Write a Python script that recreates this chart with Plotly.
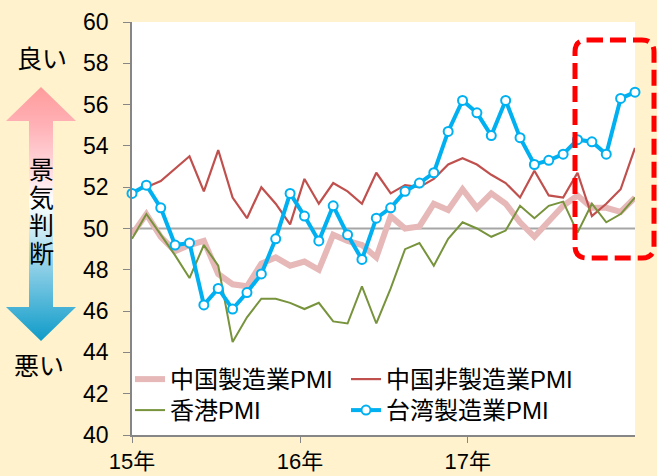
import plotly.graph_objects as go

# ── data (monthly, Jan 2015 – Dec 2017) ──────────────────────────────────────
china_mfg = [49.7, 50.7, 49.6, 48.9, 49.2, 49.4, 47.8, 47.3, 47.2, 48.3, 48.6, 48.2,
             48.4, 48.0, 49.7, 49.4, 49.2, 48.6, 50.6, 50.0, 50.1, 51.2, 50.9, 51.9,
             51.0, 51.7, 51.2, 50.3, 49.6, 50.4, 51.1, 51.6, 51.0, 51.0, 50.8, 51.5]
china_nonmfg = [51.8, 52.0, 52.3, 52.9, 53.5, 51.8, 53.8, 51.5, 50.5, 52.0, 51.2, 50.2,
                52.4, 51.2, 52.2, 51.8, 51.2, 52.7, 51.7, 52.1, 52.0, 52.4, 53.1, 53.4,
                53.1, 52.6, 52.2, 51.5, 52.8, 51.6, 51.5, 52.7, 50.6, 51.2, 51.9, 53.9]
hongkong = [49.5, 50.7, 49.7, 48.7, 47.6, 49.2, 48.2, 44.5, 45.7, 46.6, 46.6, 46.4,
            46.1, 46.4, 45.5, 45.4, 47.2, 45.4, 47.1, 49.0, 49.3, 48.2, 49.5, 50.3,
            50.0, 49.6, 49.9, 51.1, 50.5, 51.1, 51.3, 49.8, 51.2, 50.3, 50.7, 51.5]
taiwan = [51.7, 52.1, 51.0, 49.2, 49.3, 46.3, 47.1, 46.1, 46.9, 47.8, 49.5, 51.7,
          50.6, 49.4, 51.1, 49.7, 48.5, 50.5, 51.0, 51.8, 52.2, 52.7, 54.7, 56.2,
          55.6, 54.5, 56.2, 54.4, 53.1, 53.3, 53.6, 54.3, 54.2, 53.6, 56.3, 56.6]
months = list(range(len(taiwan)))

year_ticks = [0, 11.69, 23.36]
year_labels = ["15年", "16年", "17年"]

W, H = 657, 476
FONT = "Liberation Sans, Noto Sans CJK JP, sans-serif"
BG = "#FFF2CC"

# plot area in pixels
PL, PR, PT, PB = 132, 635, 22, 435

fig = go.Figure()

fig.add_trace(go.Scatter(x=months, y=china_mfg, name="中国製造業PMI", mode="lines",
                         line=dict(color="#E6B9B8", width=6), legend="legend"))
fig.add_trace(go.Scatter(x=months, y=china_nonmfg, name="中国非製造業PMI", mode="lines",
                         line=dict(color="#C0504D", width=2.2), legend="legend2"))
fig.add_trace(go.Scatter(x=months, y=hongkong, name="香港PMI", mode="lines",
                         line=dict(color="#77933C", width=2), legend="legend3"))
fig.add_trace(go.Scatter(x=months, y=taiwan, name="台湾製造業PMI", mode="lines+markers",
                         line=dict(color="#00B0F0", width=4),
                         marker=dict(symbol="circle", size=9, color="white",
                                     line=dict(color="#00B0F0", width=2)),
                         cliponaxis=False, legend="legend4"))

# ── left-hand "景気判断" arrow, drawn on a pixel overlay axis ─────────────────
ax, ay = [41, 76, 53, 53, 76, 41, 6, 29, 29, 6, 41], [87, 121, 121, 307, 307, 341, 307, 307, 121, 121, 87]
fig.add_trace(go.Scatter(
    x=ax, y=ay, xaxis="x2", yaxis="y2", mode="lines", fill="toself",
    line=dict(width=0, color="rgba(0,0,0,0)"), showlegend=False, hoverinfo="skip",
    fillgradient=dict(type="vertical", start=87, stop=341,
                      colorscale=[[0, "#FF9C9C"], [0.15, "#FFB1B6"], [0.35, "#FFE0E4"],
                                  [0.45, "#FFFFFF"], [0.55, "#D3EEF6"], [0.75, "#7CC8E3"],
                                  [1, "#0E9BC8"]]),
))

annotations = [
    dict(text="良い", x=42, y=59, xref="x2", yref="y2", showarrow=False,
         font=dict(size=25, color="black")),
    dict(text="悪い", x=39, y=366, xref="x2", yref="y2", showarrow=False,
         font=dict(size=25, color="black")),
]
for ch, yy in zip("景気判断", [170, 198, 226, 254]):
    annotations.append(dict(text=ch, x=41, y=yy, xref="x2", yref="y2", showarrow=False,
                            font=dict(size=25, color="black")))

# rounded dashed highlight box
bx0, bx1, by0, by1, r = 575, 654, 40, 258, 12
box = (f"M{bx0 + r},{by0} L{bx1 - r},{by0} Q{bx1},{by0} {bx1},{by0 + r} "
       f"L{bx1},{by1 - r} Q{bx1},{by1} {bx1 - r},{by1} L{bx0 + r},{by1} "
       f"Q{bx0},{by1} {bx0},{by1 - r} L{bx0},{by0 + r} Q{bx0},{by0} {bx0 + r},{by0} Z")

shapes = [
    dict(type="rect", xref="paper", yref="paper", x0=PL / W, x1=PR / W,
         y0=1 - PB / H, y1=1 - PT / H, fillcolor="white", line=dict(width=0), layer="below"),
    dict(type="line", xref="x", yref="y", x0=0, x1=35, y0=50, y1=50,
         line=dict(color="#A6A6A6", width=2), layer="below"),
    dict(type="path", xref="x2", yref="y2", path=box,
         line=dict(color="#FF0000", width=5, dash="16px,7px")),
]


def legend_at(x_px, top_px):
    return dict(x=x_px / W, y=1 - top_px / H, xanchor="left", yanchor="top",
                bgcolor="rgba(0,0,0,0)", font=dict(size=24))


fig.update_layout(
    width=W, height=H,
    margin=dict(l=0, r=0, t=0, b=0),
    paper_bgcolor=BG, plot_bgcolor="rgba(0,0,0,0)",
    font=dict(family=FONT, size=22, color="black"),
    xaxis=dict(domain=[PL / W, PR / W], range=[0, 35], tickvals=year_ticks,
               ticktext=year_labels, showgrid=False, zeroline=False, showline=True,
               linecolor="#868686", linewidth=1.5, ticks="outside", ticklen=6,
               tickcolor="#868686", automargin=False, tickfont=dict(size=22)),
    yaxis=dict(domain=[1 - PB / H, 1 - PT / H], range=[40, 60], dtick=2,
               showgrid=False, zeroline=False, showline=True, linecolor="#868686",
               linewidth=1.5, ticks="outside", ticklen=7, tickcolor="#868686",
               automargin=False, ticklabelstandoff=10, tickfont=dict(size=23)),
    xaxis2=dict(domain=[0, 1], range=[0, W], visible=False, fixedrange=True, anchor="y2"),
    yaxis2=dict(domain=[0, 1], range=[H, 0], visible=False, fixedrange=True, anchor="x2"),
    legend=legend_at(130, 357),
    legend2=legend_at(346, 357),
    legend3=legend_at(130, 388),
    legend4=legend_at(346, 388),
    annotations=annotations,
    shapes=shapes,
)

fig.write_html("out.html", config={"displayModeBar": False},
               post_script="document.body.style.margin='0';")
